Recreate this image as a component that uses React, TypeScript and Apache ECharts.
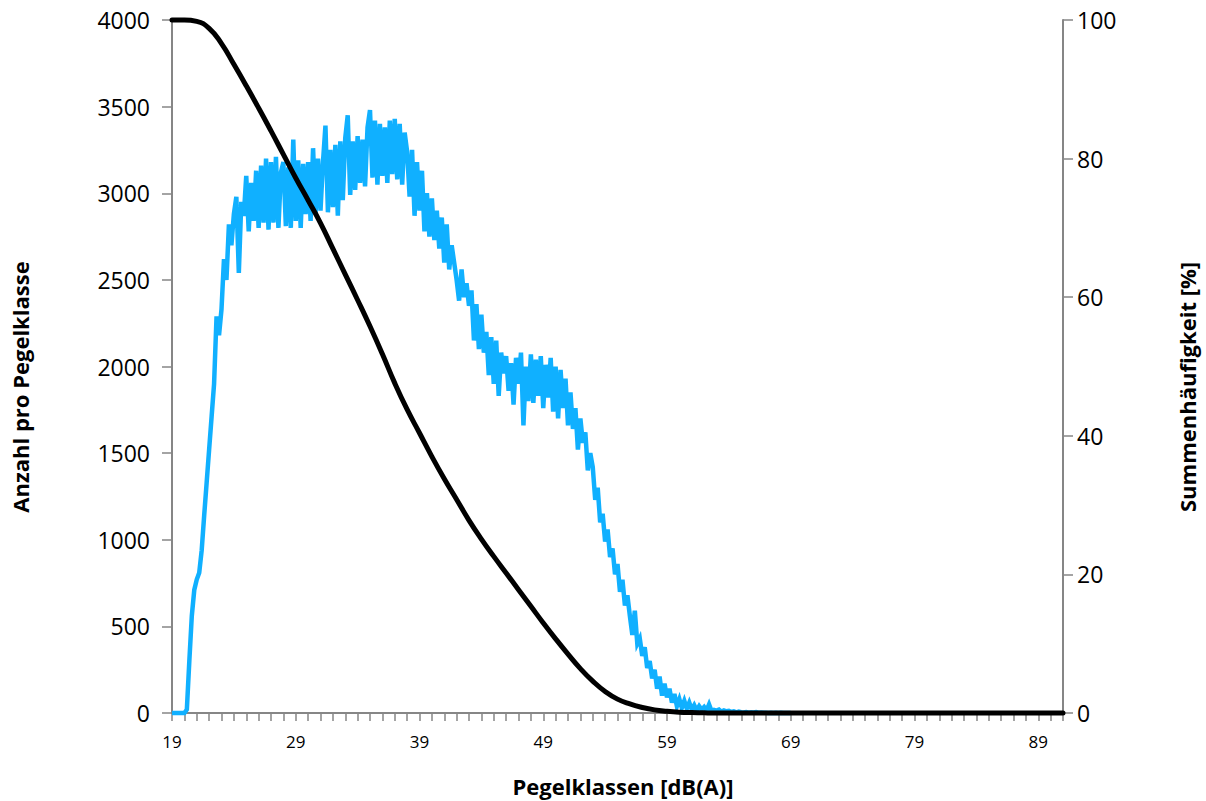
import { useEffect, useRef } from "react";
import * as echarts from "echarts";

const FONT = '"Open Sans", "Liberation Sans", sans-serif';

// x axis: noise level classes [dB(A)]
const levelMin = 19;
const levelMax = 91;
const xLabelValues = [19, 29, 39, 49, 59, 69, 79, 89];

// left axis ticks
const countMax = 4000;
const countInterval = 500;
// right axis ticks
const percentMax = 100;
const percentInterval = 20;

// Blue series: counts per level class, starting at 19.0 dB, one value every 0.2 dB
const countsStart = 19;
const countsStep = 0.2;
const counts = [
  0, 0, 0, 0, 0, // 19
  0, 20, 300, 560, 710, // 20
  770, 810, 940, 1140, 1330, // 21
  1520, 1710, 1900, 2290, 2180, // 22
  2330, 2620, 2500, 2820, 2700, // 23
  2880, 2980, 2540, 2950, 2870, // 24
  3100, 2780, 3060, 2840, 3130, // 25
  2800, 3160, 2830, 3200, 2790, // 26
  3180, 2830, 3210, 2800, 3120, // 27
  3180, 2810, 3150, 2800, 3310, // 28
  2840, 3190, 2800, 3170, 2880, // 29
  3180, 2840, 3260, 2880, 3200, // 30
  2900, 3180, 3390, 2890, 3250, // 31
  2920, 3280, 2870, 3300, 2960, // 32
  3320, 3450, 2990, 3300, 3020, // 33
  3330, 3060, 3310, 3040, 3380, // 34
  3480, 3090, 3420, 3050, 3400, // 35
  3100, 3380, 3060, 3420, 3110, // 36
  3430, 3080, 3400, 3050, 3350, // 37
  3240, 2980, 3250, 2870, 3180, // 38
  2900, 3130, 2780, 3000, 2750, // 39
  2970, 2730, 2900, 2680, 2860, // 40
  2600, 2820, 2560, 2700, 2600, // 41
  2500, 2380, 2560, 2400, 2480, // 42
  2350, 2440, 2150, 2360, 2100, // 43
  2300, 2080, 2200, 1950, 2170, // 44
  1900, 2150, 1830, 2080, 1960, // 45
  2060, 1860, 2020, 1780, 2050, // 46
  1900, 2080, 1660, 2000, 1800, // 47
  2070, 1790, 2040, 1830, 2060, // 48
  1760, 2010, 1820, 2050, 1740, // 49
  2000, 1700, 1980, 1760, 1930, // 50
  1660, 1850, 1640, 1760, 1520, // 51
  1700, 1560, 1620, 1400, 1500, // 52
  1420, 1230, 1300, 1100, 1150, // 53
  990, 1060, 900, 950, 800, // 54
  860, 700, 770, 620, 680, // 55
  560, 450, 590, 400, 430, // 56
  330, 380, 260, 300, 200, // 57
  250, 140, 210, 100, 170, // 58
  90, 140, 60, 110, 40, // 59
  80, 30, 70, 25, 60, // 60
  20, 45, 15, 40, 20, // 61
  35, 15, 50, 12, 18, // 62
  14, 20, 8, 15, 10, // 63
  12, 6, 10, 4, 8, // 64
  5, 3, 6, 2, 4, // 65
  3, 5, 2, 3, 1, // 66
  2, 0, 1, 0, 2, // 67
  0, 1, 0, 0, 0, // 68
  0, // 69
];

// Black series: cumulative frequency [%], one value per dB from 19 to 91
const sumStart = 19;
const sumPercent = [
  100, 100, 99.8, 98.8, 96.6, 93.6, 90.5, 87.3, 84.0, 80.6, // 19-28
  77.2, 74.0, 70.7, 67.0, 63.3, 59.6, 55.8, 51.8, 47.6, 43.8, // 29-38
  40.4, 37.0, 33.8, 30.8, 27.8, 25.1, 22.6, 20.2, 17.8, 15.4, // 39-48
  13.0, 10.7, 8.5, 6.4, 4.6, 3.1, 2.0, 1.3, 0.8, 0.45, // 49-58
  0.25, 0.12, 0.06, 0.02, 0, 0, 0, 0, 0, 0, // 59-68
  0, 0, 0, 0, 0, 0, 0, 0, 0, 0, // 69-78
  0, 0, 0, 0, 0, 0, 0, 0, 0, 0, // 79-88
  0, 0, 0, // 89-91
];

const titleX = "Pegelklassen [dB(A)]";
const titleLeft = "Anzahl pro Pegelklasse";
const titleRight = "Summenhäufigkeit [%]";

export default function App() {
  const ref = useRef<HTMLDivElement>(null);

  useEffect(() => {
    if (!ref.current) return;
    const chart = echarts.init(ref.current, undefined, { renderer: "svg" });

    const blueData = counts.map((c, i) => [countsStart + i * countsStep, c]);
    const blackData = sumPercent.map((p, i) => [sumStart + i, p]);
    const xTicks: number[] = [];
    for (let v = levelMin; v <= levelMax; v++) xTicks.push(v);

    const axisLineStyle = { color: "#868686", width: 2 };
    const tickStyle = { color: "#868686", width: 1.5 };
    const plain = (v: number) => String(v);

    chart.setOption({
      animation: false,
      backgroundColor: "#ffffff",
      grid: { left: 172, right: 143, top: 20, bottom: 88 },
      xAxis: {
        type: "value",
        min: levelMin,
        max: levelMax,
        axisLine: { show: true, onZero: false, lineStyle: axisLineStyle },
        axisTick: { show: true, length: 8, customValues: xTicks, lineStyle: tickStyle },
        axisLabel: {
          customValues: xLabelValues,
          formatter: plain,
          margin: 20,
          fontSize: 17,
          fontFamily: FONT,
          color: "#000",
        },
        splitLine: { show: false },
      },
      yAxis: [
        {
          type: "value",
          position: "left",
          min: 0,
          max: countMax,
          interval: countInterval,
          axisLine: { show: true, lineStyle: axisLineStyle },
          axisTick: { show: true, length: 10, lineStyle: tickStyle },
          axisLabel: { formatter: plain, margin: 22, fontSize: 23, fontFamily: FONT, color: "#000" },
          splitLine: { show: false },
        },
        {
          type: "value",
          position: "right",
          min: 0,
          max: percentMax,
          interval: percentInterval,
          axisLine: { show: true, lineStyle: axisLineStyle },
          axisTick: { show: true, length: 10, lineStyle: tickStyle },
          axisLabel: { formatter: plain, margin: 14, fontSize: 23, fontFamily: FONT, color: "#000" },
          splitLine: { show: false },
        },
      ],
      graphic: [
        {
          type: "text",
          x: 623,
          y: 786,
          style: {
            text: titleX,
            font: `bold 22px ${FONT}`,
            fill: "#000",
            textAlign: "center",
            textVerticalAlign: "middle",
          },
        },
        {
          type: "text",
          x: 20,
          y: 387,
          rotation: Math.PI / 2,
          style: {
            text: titleLeft,
            font: `bold 22px ${FONT}`,
            fill: "#000",
            textAlign: "center",
            textVerticalAlign: "middle",
          },
        },
        {
          type: "text",
          x: 1187,
          y: 387,
          rotation: Math.PI / 2,
          style: {
            text: titleRight,
            font: `bold 22px ${FONT}`,
            fill: "#000",
            textAlign: "center",
            textVerticalAlign: "middle",
          },
        },
      ],
      series: [
        {
          name: "Anzahl",
          type: "line",
          yAxisIndex: 0,
          data: blueData,
          showSymbol: false,
          clip: false,
          lineStyle: { color: "#10B0FF", width: 4.5, join: "miter" },
          z: 2,
        },
        {
          name: "Summenhäufigkeit",
          type: "line",
          yAxisIndex: 1,
          data: blackData,
          showSymbol: false,
          smooth: 0.5,
          clip: false,
          lineStyle: { color: "#000000", width: 5, cap: "round", join: "round" },
          z: 3,
        },
      ],
    });

    return () => chart.dispose();
  }, []);

  return (
    <div
      ref={ref}
      style={{ position: "absolute", left: 0, top: 0, width: 1206, height: 801, background: "#fff" }}
    />
  );
}
